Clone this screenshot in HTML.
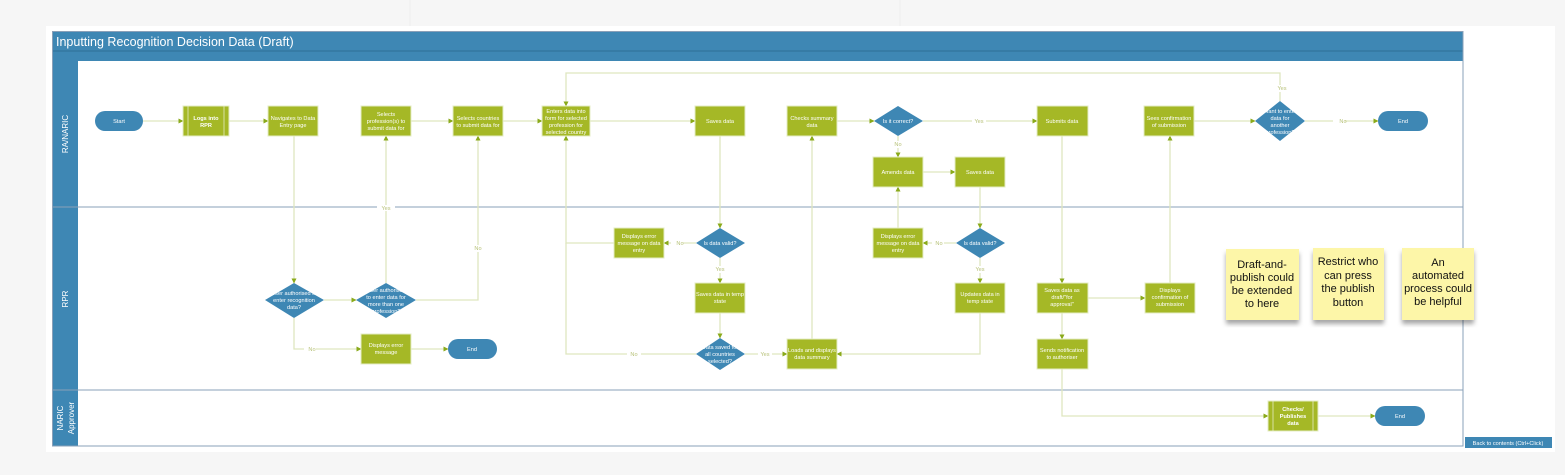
<!DOCTYPE html>
<html><head><meta charset="utf-8"><style>
html,body{margin:0;padding:0;background:#f6f6f6;}
svg{display:block;font-family:"Liberation Sans",sans-serif;}
.b{fill:#a5b826;stroke:#e4ecc4;stroke-width:1}
.d{fill:#3e87b4}
.t{fill:#fff;font-size:5.6px;text-anchor:middle}
.c{stroke:#dfe6bf;stroke-width:1.3;fill:none}
.l{fill:#b8c27a;font-size:5.6px;text-anchor:middle}
.s{font-size:11px;fill:#111;text-anchor:middle}
</style></head><body>
<svg width="1565" height="475" viewBox="0 0 1565 475">
<defs><marker id="a" markerWidth="5" markerHeight="5" refX="4.5" refY="2.5" orient="auto" markerUnits="userSpaceOnUse"><path d="M0,0L5,2.5L0,5z" fill="#8aaa1a"/></marker>
<filter id="sh"><feDropShadow dx="0" dy="4" stdDeviation="2.5" flood-color="#000" flood-opacity="0.35"/></filter></defs>
<line x1="410" y1="0" x2="410" y2="26" stroke="#eee"/><line x1="900" y1="0" x2="900" y2="26" stroke="#eee"/>
<rect x="46" y="26" width="1509" height="426" fill="#fff"/>
<rect x="52" y="31" width="1411" height="30" fill="#3e87b4"/>
<line x1="52" y1="51" x2="1463" y2="51" stroke="#2f6f96"/>
<text x="56" y="46" fill="#fff" font-size="12.5">Inputting Recognition Decision Data (Draft)</text>
<rect x="52" y="61" width="26" height="385" fill="#3e87b4"/>
<rect x="52.5" y="31.5" width="1410.5" height="414.5" fill="none" stroke="#8aa0b8"/>
<line x1="52" y1="207" x2="1463" y2="207" stroke="#8aa0b8"/>
<line x1="52" y1="390" x2="1463" y2="390" stroke="#8aa0b8"/>
<text transform="translate(68,134) rotate(-90)" fill="#fff" font-size="8" text-anchor="middle">RA/NARIC</text>
<text transform="translate(68,299) rotate(-90)" fill="#fff" font-size="8" text-anchor="middle">RPR</text>
<text transform="translate(63,418) rotate(-90)" fill="#fff" font-size="8" text-anchor="middle">NARIC</text>
<text transform="translate(74,418) rotate(-90)" fill="#fff" font-size="8" text-anchor="middle">Approver</text>
<path class="c" d="M696,354H566V243"/>
<g class="c" marker-end="url(#a)">
<path d="M143,121H183"/><path d="M229,121H268"/><path d="M411,121H453"/><path d="M503,121H542"/>
<path d="M590,121H695"/><path d="M837,121H874"/><path d="M923,121H1037"/><path d="M1194,121H1255"/><path d="M1305,121H1378"/>
<path d="M294,136V283"/><path d="M324,300H356"/><path d="M386,283V136"/><path d="M416,300H478V136"/>
<path d="M294,318V349H361"/><path d="M411,349H448"/>
<path d="M1280,101V73H566V106"/><path d="M614,243H566V136"/>
<path d="M720,136V228"/><path d="M696,243H664"/><path d="M720,258V283"/><path d="M720,313V338"/><path d="M745,354H787"/>
<path d="M812,339V136"/><path d="M898,136V157"/><path d="M923,172H955"/><path d="M980,187V228"/><path d="M956,243H923"/>
<path d="M898,228V187"/><path d="M980,258V283"/><path d="M980,313V354H837"/>
<path d="M1062,136V283"/><path d="M1088,298H1145"/><path d="M1170,283V136"/><path d="M1062,313V339"/><path d="M1062,369V416H1268"/><path d="M1318,416H1375"/>
</g>
<g fill="#fff"><rect x="377" y="205" width="18" height="6"/><rect x="472" y="245" width="12" height="7"/><rect x="305" y="297" width="14" height="7"/><rect x="304" y="346" width="12" height="7"/><rect x="671" y="240" width="12" height="7"/><rect x="713" y="266" width="14" height="7"/><rect x="627" y="351" width="14" height="7"/><rect x="758" y="351" width="14" height="7"/><rect x="892" y="141" width="12" height="7"/><rect x="972" y="118" width="14" height="7"/><rect x="932" y="240" width="12" height="7"/><rect x="973" y="266" width="14" height="7"/><rect x="1272" y="85" width="16" height="7"/><rect x="1333" y="118" width="12" height="7"/></g>
<g class="l"><text x="386" y="210">Yes</text><text x="478" y="250">No</text><text x="312" y="302">Yes</text><text x="312" y="351">No</text><text x="680" y="245">No</text><text x="720" y="271">Yes</text><text x="634" y="356">No</text><text x="765" y="356">Yes</text><text x="898" y="146">No</text><text x="979" y="123">Yes</text><text x="939" y="245">No</text><text x="980" y="271">Yes</text><text x="1282" y="90">Yes</text><text x="1343" y="123">No</text></g>
<g class="d"><rect x="95" y="111" width="48" height="20" rx="10"/><rect x="1378" y="111" width="50" height="20" rx="10"/><rect x="448" y="339" width="49" height="20" rx="10"/><rect x="1375" y="406" width="50" height="20" rx="10"/></g>
<g class="t"><text x="119" y="123">Start</text><text x="1403" y="123">End</text><text x="472" y="351">End</text><text x="1400" y="418">End</text></g>
<g class="b">
<rect x="183" y="106" width="46" height="30"/><rect x="268" y="106" width="50" height="30"/><rect x="361" y="106" width="50" height="30"/><rect x="453" y="106" width="50" height="30"/><rect x="542" y="106" width="48" height="30"/>
<rect x="695" y="106" width="50" height="30"/><rect x="787" y="106" width="50" height="30"/><rect x="873" y="157" width="50" height="30"/><rect x="955" y="157" width="50" height="30"/>
<rect x="1037" y="106" width="51" height="30"/><rect x="1144" y="106" width="50" height="30"/>
<rect x="361" y="334" width="50" height="30"/><rect x="614" y="228" width="50" height="30"/><rect x="695" y="283" width="50" height="30"/><rect x="787" y="339" width="50" height="30"/>
<rect x="873" y="228" width="50" height="30"/><rect x="955" y="283" width="50" height="30"/>
<rect x="1037" y="283" width="51" height="30"/><rect x="1145" y="283" width="50" height="30"/><rect x="1037" y="339" width="51" height="30"/>
<rect x="1268" y="401" width="50" height="30"/>
</g>
<g stroke="#e4ecc4" stroke-width="0.8"><line x1="188" y1="106" x2="188" y2="136"/><line x1="224" y1="106" x2="224" y2="136"/><line x1="1273" y1="401" x2="1273" y2="431"/><line x1="1313" y1="401" x2="1313" y2="431"/></g>
<g class="d">
<path d="M898,106L923,121L898,136L874,121z"/><path d="M1280,101L1305,121L1280,141L1255,121z"/>
<path d="M294,283L324,300L294,318L265,300z"/><path d="M386,283L416,300L386,318L356,300z"/>
<path d="M720,228L745,243L720,258L696,243z"/><path d="M720,338L745,354L720,370L696,354z"/><path d="M980,228L1005,243L980,258L956,243z"/>
</g>
<g class="t">
<text x="206" y="120" font-weight="bold">Logs into</text><text x="206" y="127" font-weight="bold">RPR</text>
<text x="293" y="120">Navigates to Data</text><text x="293" y="127">Entry page</text>
<text x="386" y="116">Selects</text><text x="386" y="123">profession(s) to</text><text x="386" y="130">submit data for</text>
<text x="478" y="120">Selects countries</text><text x="478" y="127">to submit data for</text>
<text x="566" y="113">Enters data into</text><text x="566" y="120">form for selected</text><text x="566" y="127">profession for</text><text x="566" y="134">selected country</text>
<text x="720" y="123">Saves data</text>
<text x="812" y="120">Checks summary</text><text x="812" y="127">data</text>
<text x="898" y="123">Is it correct?</text>
<text x="898" y="174">Amends data</text><text x="980" y="174">Saves data</text>
<text x="1062" y="123">Submits data</text>
<text x="1169" y="120">Sees confirmation</text><text x="1169" y="127">of submission</text>
<text x="1280" y="113">Want to enter</text><text x="1280" y="120">data for</text><text x="1280" y="127">another</text><text x="1280" y="134">profession?</text>
<text x="294" y="295">User authorised to</text><text x="294" y="302">enter recognition</text><text x="294" y="309">data?</text>
<text x="386" y="292">User authorised</text><text x="386" y="299">to enter data for</text><text x="386" y="306">more than one</text><text x="386" y="313">profession?</text>
<text x="386" y="347">Displays error</text><text x="386" y="354">message</text>
<text x="639" y="238">Displays error</text><text x="639" y="245">message on data</text><text x="639" y="252">entry</text>
<text x="720" y="245">Is data valid?</text>
<text x="720" y="296">Saves data in temp</text><text x="720" y="303">state</text>
<text x="720" y="349">Data saved for</text><text x="720" y="356">all countries</text><text x="720" y="363">selected?</text>
<text x="812" y="352">Loads and displays</text><text x="812" y="359">data summary</text>
<text x="898" y="238">Displays error</text><text x="898" y="245">message on data</text><text x="898" y="252">entry</text>
<text x="980" y="245">Is data valid?</text>
<text x="980" y="296">Updates data in</text><text x="980" y="303">temp state</text>
<text x="1062" y="292">Saves data as</text><text x="1062" y="299">draft/"for</text><text x="1062" y="306">approval"</text>
<text x="1170" y="292">Displays</text><text x="1170" y="299">confirmation of</text><text x="1170" y="306">submission</text>
<text x="1062" y="352">Sends notification</text><text x="1062" y="359">to authoriser</text>
<text x="1293" y="411" font-weight="bold">Checks/</text><text x="1293" y="418" font-weight="bold">Publishes</text><text x="1293" y="425" font-weight="bold">data</text>
</g>
<g filter="url(#sh)" fill="#fdf6a8"><rect x="1226" y="249" width="73" height="71"/><rect x="1313" y="248" width="71" height="72"/><rect x="1402" y="248" width="72" height="72"/></g>
<g class="s">
<text x="1262" y="268">Draft-and-</text><text x="1262" y="281">publish could</text><text x="1262" y="294">be extended</text><text x="1262" y="307">to here</text>
<text x="1348" y="265">Restrict who</text><text x="1348" y="279">can press</text><text x="1348" y="292">the publish</text><text x="1348" y="306">button</text>
<text x="1438" y="266">An</text><text x="1438" y="279">automated</text><text x="1438" y="292">process could</text><text x="1438" y="305">be helpful</text>
</g>
<rect x="1465" y="437" width="87" height="11" fill="#3e87b4"/>
<text x="1508" y="445" fill="#fff" font-size="5.6" text-anchor="middle">Back to contents (Ctrl+Click)</text>
</svg>
</body></html>
